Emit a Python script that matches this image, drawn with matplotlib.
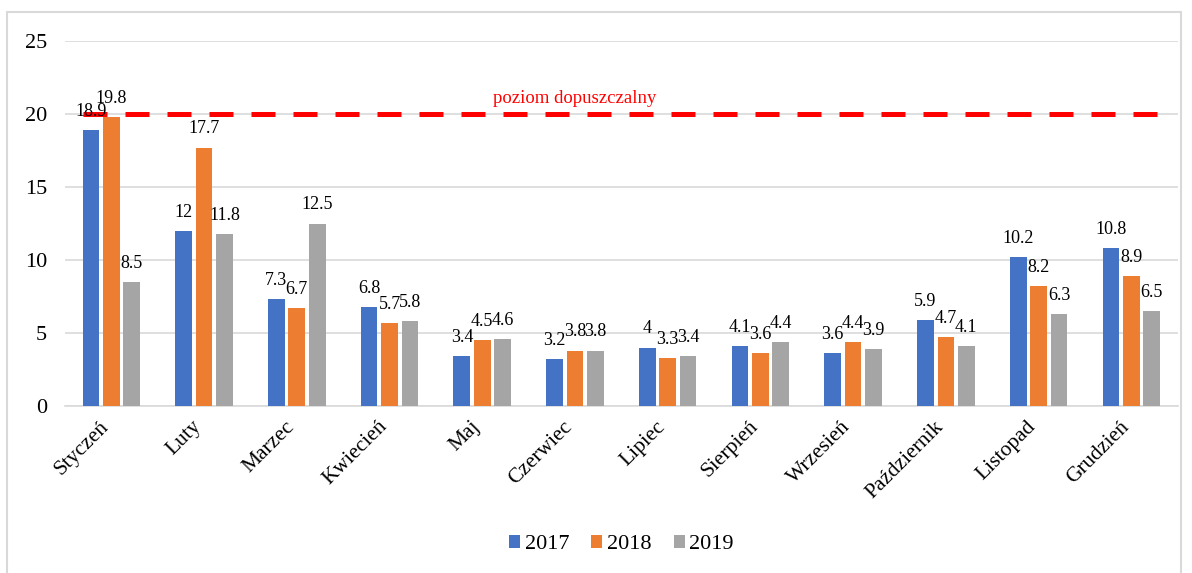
import numpy as np
import matplotlib.pyplot as plt
from matplotlib.patches import Rectangle
from matplotlib.transforms import ScaledTranslation

plt.rcParams['font.family'] = ['Liberation Serif', 'DejaVu Serif']

miesiace = ['Styczeń', 'Luty', 'Marzec', 'Kwiecień', 'Maj', 'Czerwiec',
            'Lipiec', 'Sierpień', 'Wrzesień', 'Październik', 'Listopad', 'Grudzień']
v2017 = [18.9, 12, 7.3, 6.8, 3.4, 3.2, 4, 4.1, 3.6, 5.9, 10.2, 10.8]
v2018 = [19.8, 17.7, 6.7, 5.7, 4.5, 3.8, 3.3, 3.6, 4.4, 4.7, 8.2, 8.9]
v2019 = [8.5, 11.8, 12.5, 5.8, 4.6, 3.8, 3.4, 4.4, 3.9, 4.1, 6.3, 6.5]
lata = ['2017', '2018', '2019']
kolory = ['#4472c4', '#ed7d31', '#a5a5a5']
limit = 20

fig = plt.figure(figsize=(11.92, 5.73), dpi=100)
ax = fig.add_axes([0.0545, 0.2914, 0.9335, 0.637])

# ramka wokol calego wykresu
fig.patches.append(Rectangle((7 / 1192, -0.01), 1174 / 1192, 1 - 12 / 573 + 0.01,
                             transform=fig.transFigure, fill=False,
                             edgecolor='#d9d9d9', linewidth=1.5))

x = np.arange(len(miesiace))
szer = 0.18
krok = 0.22
for i, (dane, rok, kol) in enumerate(zip([v2017, v2018, v2019], lata, kolory)):
    pos = x + (i - 1) * krok
    ax.bar(pos, dane, width=szer, color=kol, label=rok, zorder=3)
    for p, v in zip(pos, dane):
        ax.text(p, v + 0.7, f'{v:g}', ha='center', va='bottom', fontsize=13, zorder=5)

ax.plot([x[0] - krok - szer / 2, x[-1] + krok + szer / 2], [limit, limit],
        color='#ff0000', linestyle=(0, (4.8, 3.6)), linewidth=3.6, zorder=4)
ax.text(5.0, limit + 0.5, 'poziom dopuszczalny', color='#ff0000', fontsize=13.5,
        ha='center', va='bottom', zorder=5)

ax.set_xlim(-0.5, len(miesiace) - 0.5)
ax.set_ylim(0, 25)
ax.set_yticks([0, 5, 10, 15, 20, 25])
ax.yaxis.grid(True, color='#d9d9d9', linewidth=1.2, zorder=0)
for s in ['top', 'right', 'left']:
    ax.spines[s].set_visible(False)
ax.spines['bottom'].set_color('#d9d9d9')
ax.spines['bottom'].set_linewidth(1.2)
ax.tick_params(length=0, labelsize=16, pad=8)
ax.tick_params(axis='y', pad=13)
ax.set_xticks(x)
ax.set_xticklabels(miesiace, rotation=45, ha='right', rotation_mode='anchor', fontsize=15.5)
for lab in ax.get_xticklabels():
    lab.set_transform(lab.get_transform() + ScaledTranslation(-0.12, 0, fig.dpi_scale_trans))

ax.legend(loc='center', bbox_to_anchor=(0.5, -0.38), ncol=3, frameon=False,
          prop={'family': 'Liberation Serif', 'size': 16},
          handlelength=0.5, handleheight=0.5, handletextpad=0.2,
          columnspacing=1.0)

fig.savefig('out.png', dpi=100)
